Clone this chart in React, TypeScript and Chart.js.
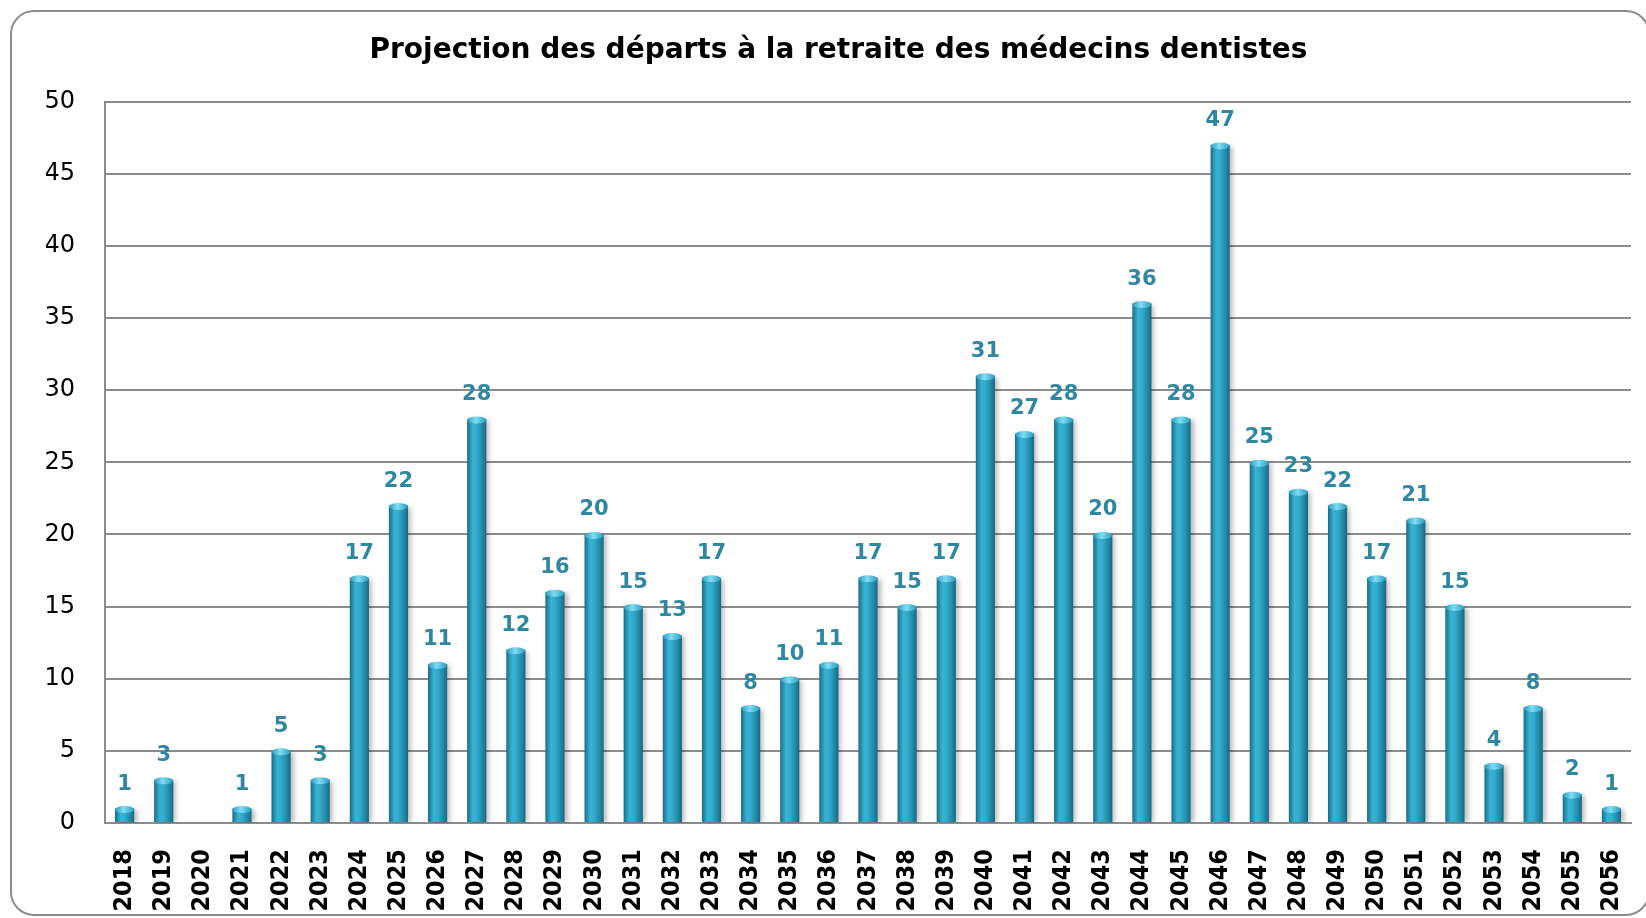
import { useEffect, useRef } from "react";
import { Chart, registerables } from "chart.js";

Chart.register(...registerables);

const titleText = "Projection des départs à la retraite des médecins dentistes";

const years: string[] = [
  "2018", "2019", "2020", "2021", "2022", "2023", "2024", "2025", "2026", "2027",
  "2028", "2029", "2030", "2031", "2032", "2033", "2034", "2035", "2036", "2037",
  "2038", "2039", "2040", "2041", "2042", "2043", "2044", "2045", "2046", "2047",
  "2048", "2049", "2050", "2051", "2052", "2053", "2054", "2055", "2056",
];

const departures: number[] = [
  1, 3, 0, 1, 5, 3, 17, 22, 11, 28,
  12, 16, 20, 15, 13, 17, 8, 10, 11, 17,
  15, 17, 31, 27, 28, 20, 36, 28, 47, 25,
  23, 22, 17, 21, 15, 4, 8, 2, 1,
];

const yMin = 0;
const yMax = 50;
const yStep = 5;

const BAR_PCT = 0.49;

const barShadow = {
  id: "barShadow",
  beforeDatasetDraw(chart: any) {
    const c = chart.ctx;
    c.save();
    c.shadowColor = "rgba(0,0,0,0.28)";
    c.shadowBlur = 5;
    c.shadowOffsetX = 3;
    c.shadowOffsetY = 1;
  },
  afterDatasetDraw(chart: any) {
    chart.ctx.restore();
  },
};

const capsAndLabels = {
  id: "capsAndLabels",
  afterDatasetsDraw(chart: any) {
    const c = chart.ctx;
    const meta = chart.getDatasetMeta(0);
    const data = chart.data.datasets[0].data as number[];
    meta.data.forEach((el: any, i: number) => {
      const v = data[i];
      if (!v) return;
      const w = el.width;
      const g = c.createLinearGradient(el.x - w / 2, 0, el.x + w / 2, 0);
      g.addColorStop(0, "#2a9cbd");
      g.addColorStop(0.45, "#7fdcf5");
      g.addColorStop(1, "#2a9cbd");
      c.save();
      c.fillStyle = g;
      c.beginPath();
      c.ellipse(el.x, el.y + 1, w / 2, 3.5, 0, 0, Math.PI * 2);
      c.fill();
      c.restore();

      c.save();
      c.fillStyle = "#2f87a2";
      c.font = "bold 21px 'DejaVu Sans', sans-serif";
      c.textAlign = "center";
      c.textBaseline = "alphabetic";
      c.fillText(String(v), el.x, el.y - 19);
      c.restore();
    });
  },
};

export default function App() {
  const ref = useRef<HTMLCanvasElement | null>(null);

  useEffect(() => {
    if (!ref.current) return;
    const chart = new Chart(ref.current, {
      type: "bar",
      data: {
        labels: years,
        datasets: [
          {
            data: departures,
            categoryPercentage: 1,
            barPercentage: BAR_PCT,
            borderWidth: 0,
            backgroundColor: (ctx: any) => {
              const ch = ctx.chart;
              const xs = ch.scales?.x;
              if (!xs || ctx.dataIndex == null || !xs.width) return "#2aa0c2";
              const cx = xs.getPixelForValue(ctx.dataIndex);
              const w = (xs.width / years.length) * BAR_PCT;
              const g = ch.ctx.createLinearGradient(cx - w / 2, 0, cx + w / 2, 0);
              g.addColorStop(0, "#1b6d86");
              g.addColorStop(0.3, "#37b2d5");
              g.addColorStop(0.5, "#33abcd");
              g.addColorStop(0.8, "#2288a6");
              g.addColorStop(1, "#1a6780");
              return g;
            },
          },
        ],
      },
      options: {
        responsive: false,
        animation: false,
        layout: { padding: { left: 46, top: 10, right: 15, bottom: 0 } },
        plugins: {
          legend: { display: false },
          tooltip: { enabled: false },
          title: {
            display: true,
            text: titleText,
            color: "#000",
            font: { family: "'DejaVu Sans', sans-serif", size: 28, weight: "bold" },
            padding: { top: 24, bottom: 34 },
          },
        },
        scales: {
          x: {
            grid: { display: false, drawTicks: false },
            border: { display: true, color: "#8c8c8c", width: 2 },
            ticks: {
              autoSkip: false,
              minRotation: 90,
              maxRotation: 90,
              padding: 26,
              color: "#000",
              font: {
                family: "'Liberation Sans Narrow', 'DejaVu Sans Condensed', sans-serif",
                size: 25,
                weight: "bold",
              },
            },
            afterFit: (s: any) => {
              s.height = 95;
              s.paddingLeft = 0;
              s.paddingRight = 0;
            },
          },
          y: {
            min: yMin,
            max: yMax,
            grid: { color: "#8c8c8c", lineWidth: 2, drawTicks: false },
            border: { display: true, color: "#8c8c8c", width: 2 },
            ticks: {
              stepSize: yStep,
              padding: 30,
              color: "#000",
              font: { family: "'DejaVu Sans', sans-serif", size: 24 },
            },
            afterFit: (s: any) => {
              s.width = 59;
            },
          },
        },
      },
      plugins: [barShadow, capsAndLabels],
    });
    return () => chart.destroy();
  }, []);

  return (
    <div
      style={{
        position: "fixed",
        left: 0,
        top: 0,
        width: 1646,
        height: 918,
        overflow: "hidden",
        background: "#fff",
      }}
    >
      <div
        style={{
          position: "absolute",
          left: 10,
          top: 10,
          width: 1640,
          height: 906,
          boxSizing: "border-box",
          border: "2px solid #8c8c8c",
          borderRadius: 24,
        }}
      />
      <canvas
        ref={ref}
        width={1646}
        height={918}
        style={{ position: "absolute", left: 0, top: 0, width: 1646, height: 918 }}
      />
    </div>
  );
}
